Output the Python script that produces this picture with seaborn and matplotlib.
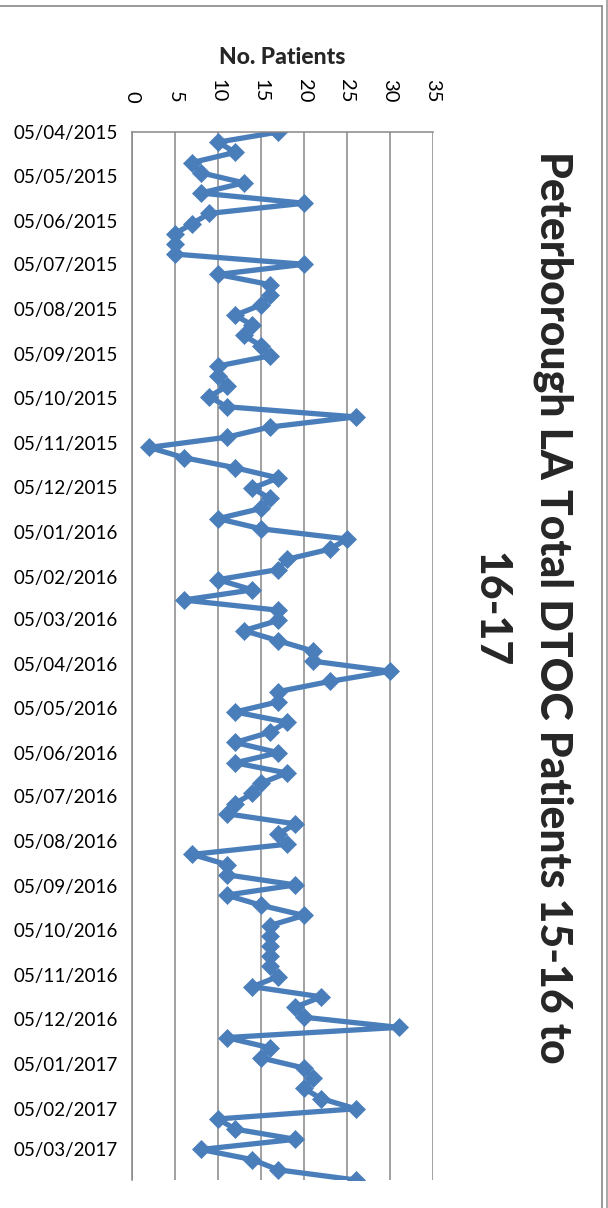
import matplotlib
matplotlib.use("Agg")
import matplotlib.pyplot as plt
from matplotlib.lines import Line2D
import matplotlib.dates as mdates
import seaborn as sns
import pandas as pd

# Weekly count of delayed transfers of care (DTOC) patients, week starting 05/04/2015
first_week = "2015-04-05"
patients = [
    17, 10, 12, 7, 8, 13, 8, 20, 9, 7, 5, 5, 5, 20, 10, 16, 16,
    15, 12, 14, 13, 15, 16, 10, 10, 11, 9, 11, 26, 16, 11, 2, 6, 12, 17,
    14, 16, 15, 10, 15, 25, 23, 18, 17, 10, 14, 6, 17, 17, 13, 17, 21,
    21, 30, 23, 17, 17, 12, 18, 16, 12, 17, 12, 18, 15, 14, 12, 11, 19, 17,
    18, 7, 11, 11, 19, 11, 15, 20, 16, 16, 16, 16, 16, 17, 14, 22, 19, 20,
    31, 11, 16, 15, 20, 21, 20, 22, 26, 10, 12, 19, 8, 14, 17, 26,
]
month_labels = [
    "05/04/2015", "05/05/2015", "05/06/2015", "05/07/2015", "05/08/2015",
    "05/09/2015", "05/10/2015", "05/11/2015", "05/12/2015", "05/01/2016",
    "05/02/2016", "05/03/2016", "05/04/2016", "05/05/2016", "05/06/2016",
    "05/07/2016", "05/08/2016", "05/09/2016", "05/10/2016", "05/11/2016",
    "05/12/2016", "05/01/2017", "05/02/2017", "05/03/2017",
]
value_ticks = [0, 5, 10, 15, 20, 25, 30, 35]
title_lines = ["Peterborough LA Total DTOC Patients 15-16 to", "16-17"]
axis_title = "No. Patients"

weeks = pd.date_range(first_week, periods=len(patients), freq="7D")
df = pd.DataFrame({"week": weeks, "patients": patients})
month_dates = pd.to_datetime(month_labels, format="%d/%m/%Y")

sns.set_theme(style="white")
plt.rcParams["font.family"] = ["Lato", "DejaVu Sans"]

W, H = 608, 1208
PL, PR, PT, PB = 132, 433, 132, 1180   # plot-area edges in pixels
fig = plt.figure(figsize=(W / 100, H / 100), dpi=100)
ax = fig.add_axes([PL / W, 1 - PB / H, (PR - PL) / W, (PB - PT) / H])

line_blue = "#4A7EBB"
sns.lineplot(
    data=df, x="patients", y="week", orient="y", sort=False, ax=ax,
    color=line_blue, linewidth=3.8, marker="D", markersize=9.6,
    markeredgewidth=0.5, markeredgecolor=line_blue, markerfacecolor=line_blue,
    legend=False,
)

grid_grey = "#878787"
ax.set_xlim(value_ticks[0], value_ticks[-1])
ax.set_ylim(weeks[-1], weeks[0])
ax.set_xticks(value_ticks)
ax.set_xticklabels([str(v) for v in value_ticks])
ax.set_yticks(mdates.date2num(month_dates))
ax.set_yticklabels(month_labels)

ax.xaxis.tick_top()
ax.tick_params(axis="x", top=False, bottom=False, labeltop=True, labelbottom=False,
               length=0, pad=21, labelsize=14.5, colors="black")
ax.tick_params(axis="y", left=False, length=0, pad=10, labelsize=13.5, colors="black")
for lab in ax.get_xticklabels():
    lab.set_rotation(-90)
    lab.set_va("bottom")
    lab.set_ha("center")

ax.grid(axis="x", color=grid_grey, linewidth=1.1)
ax.grid(axis="y", visible=False)
for side in ("right", "bottom"):
    ax.spines[side].set_visible(False)
for side in ("top", "left"):
    ax.spines[side].set_color(grid_grey)
    ax.spines[side].set_linewidth(1.1)

ax.set_ylabel("")
ax.set_xlabel(axis_title, fontsize=16.5, fontweight="black")
ax.xaxis.set_label_position("top")
ax.xaxis.set_label_coords(0.5, (H - 57 - (H - PB)) / (PB - PT))
ax.xaxis.label.set_va("center")

# Chart title, reading top to bottom along the right side
for text, xc, yc in ((title_lines[0], 553, 607), (title_lines[1], 490, 610)):
    fig.text(xc / W, 1 - yc / H, text, rotation=-90, ha="center", va="center",
             fontsize=30.8, fontweight="black")

# Chart-area border
fig.add_artist(Line2D([0, 602 / W], [1 - 6 / H, 1 - 6 / H], transform=fig.transFigure,
                      color=grid_grey, linewidth=1.2))
fig.add_artist(Line2D([602 / W, 602 / W], [0, 1 - 6 / H], transform=fig.transFigure,
                      color=grid_grey, linewidth=1.2))
fig.add_artist(Line2D([606.5 / W, 606.5 / W], [0, 1], transform=fig.transFigure,
                      color="#9a9a9a", linewidth=1.2))

fig.savefig("out.png", dpi=100)
